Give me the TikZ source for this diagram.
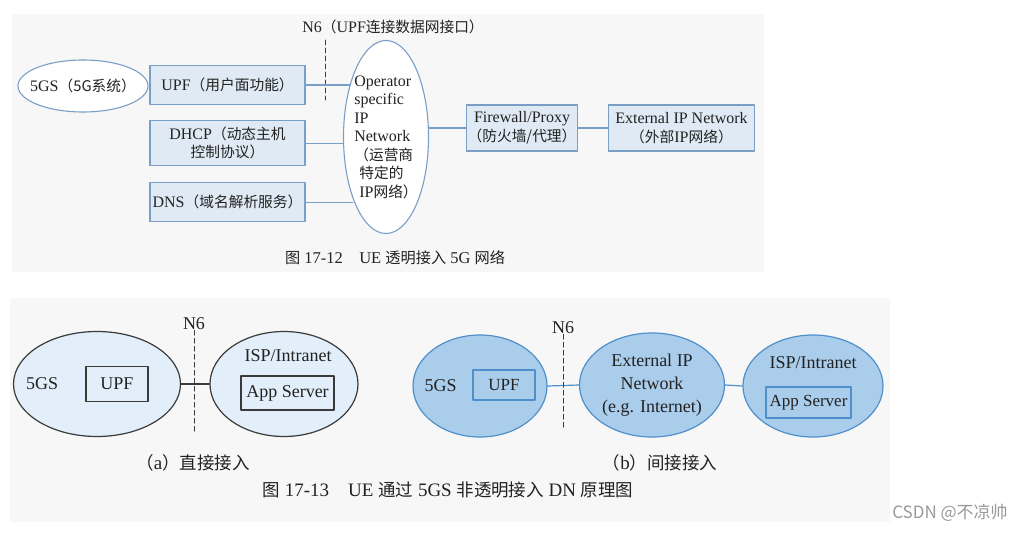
\documentclass[tikz,border=0pt]{standalone}
\usepackage{fontspec}
\setmainfont{Liberation Serif}
\newfontfamily\cjk[Scale=0.92]{Noto Sans CJK SC}
\newfontfamily\markfont{Noto Sans CJK SC}
\usepackage{tikz}
\usetikzlibrary{positioning,shapes.geometric}
\definecolor{ink}{HTML}{222222}
\definecolor{panel}{HTML}{F7F7F7}
\definecolor{boxfill}{HTML}{DFEAF4}
\definecolor{boxline}{HTML}{7A9FC6}
\definecolor{paleblue}{HTML}{E2EEF9}
\definecolor{deepblue}{HTML}{AACDEB}
\definecolor{rimblue}{HTML}{4F8FCB}
\definecolor{rimgray}{HTML}{3A3A3A}
\newcommand{\zh}[1]{{\cjk #1}}
\tikzset{
    every picture/.style={line cap=round,line join=round},
    toptext/.style={inner sep=0pt,text=ink,align=center,
      font=\fontsize{16}{18.5}\selectfont},
    lowtext/.style={inner sep=0pt,text=ink,align=center,
      font=\fontsize{18}{23}\selectfont},
    captext/.style={inner sep=0pt,text=ink,font=\fontsize{17}{20}\selectfont},
    topbox/.style={draw=boxline,fill=boxfill,line width=1.1pt,
      minimum width=155pt,inner sep=1pt,text=ink,align=center,
      font=\fontsize{16}{18.5}\selectfont},
    topoval/.style={ellipse,draw=boxline,fill=white,line width=1.1pt,inner sep=0pt},
    toplink/.style={draw=boxline,line width=1.1pt},
    paleoval/.style={ellipse,draw=rimgray,fill=paleblue,line width=1.2pt,inner sep=0pt},
    deepoval/.style={ellipse,draw=rimblue,fill=deepblue,line width=1.2pt,inner sep=0pt},
    graybox/.style={draw=rimgray,line width=1.1pt,inner sep=0pt,text=ink,
      font=\fontsize{18}{23}\selectfont},
    bluebox/.style={draw=rimblue,line width=1.1pt,inner sep=0pt,text=ink,
      font=\fontsize{17}{23}\selectfont},
    graylink/.style={draw=rimgray,line width=1.2pt},
    bluelink/.style={draw=rimblue,line width=1.2pt},
    n6line/.style={draw=rimgray,dashed,dash pattern=on 5pt off 3pt,line width=0.9pt}
}

\begin{document}
\begin{tikzpicture}[x=1pt,y=-1pt]
  \useasboundingbox (0,0) rectangle (1020,533);
  \fill[panel] (12,14) rectangle (764,272);
  \fill[panel] (10,298) rectangle (890,522);

  % 17-12: transparent access
  \node[topoval,minimum width=130pt,minimum height=52pt] (gs) at (83,86) {};
  \node[toptext] (gstxt) at (gs) {5GS\zh{（5G系统）}};
  \node[topbox,minimum height=39pt] (upf) at (227.5,85) {UPF\zh{（用户面功能）}};
  \node[topbox,minimum height=45pt,below=15pt of upf] (dhcp) {DHCP\zh{（动态主机}\\\zh{控制协议）}};
  \node[topbox,minimum height=39pt,below=16pt of dhcp] (dns) {DNS\zh{（域名解析服务）}};
  \node[topoval,minimum width=85pt,minimum height=193pt] (op) at (386,137) {};
  \node[toptext,align=left] (optxt) at (op) {Operator\\specific\\IP\\Network\\
    \zh{（运营商}\\\hspace{5pt}\zh{特定的}\\\hspace{5pt}IP\zh{网络）}};
  \node[topbox,minimum width=110pt,minimum height=46pt] (fw) at (522,128)
    {Firewall/Proxy\\\zh{（防火墙/代理）}};
  \node[topbox,minimum width=146pt,minimum height=46pt,right=30pt of fw] (ext)
    {External IP Network\\\zh{（外部}IP\zh{网络）}};
  \node[toptext] (n6lab) at (393,27) {N6\zh{（}UPF\zh{连接数据网接口）}};
  \coordinate (n6top) at (325,40);
  \coordinate (n6bot) at (325,100);
  \draw[n6line] (n6top) -- (n6bot);
  \draw[toplink] (upf.east) -- (upf.east -| op.124.5);
  \draw[toplink] (dhcp.east) -- (dhcp.east -| op.186.7);
  \draw[toplink] (dns.east) -- (dns.east -| op.242.9);
  \draw[toplink] (fw.west -| op.12) -- (fw.west);
  \draw[toplink] (fw.east) -- (ext.west);
  \node[captext,font=\fontsize{16.5}{20}\selectfont] (cap1) at (395,258)
    {\zh{图} 17-12\quad UE \zh{透明接入} 5G \zh{网络}};

  % 17-13 (a): direct access
  \node[paleoval,minimum width=167pt,minimum height=105pt] (gsA) at (97,384) {};
  \node[lowtext,right=13pt of gsA.west] (gsAtxt) {5GS};
  \node[graybox,minimum width=62pt,minimum height=35pt] (upfA) at (117,384) {UPF};
  \node[paleoval,minimum width=148pt,minimum height=105pt] (ispA) at (284,384) {};
  \node[graybox,minimum width=93pt,minimum height=34pt] (appA) at (287.5,393) {App Server};
  \node[lowtext] (ispAtxt) at (288,356) {ISP/Intranet};
  \draw[graylink] (gsA.east) -- (ispA.west);
  \node[lowtext] (n6Alab) at (194,324) {N6};
  \coordinate (n6Abot) at (194,432);
  \draw[n6line] (n6Alab.south) -- (n6Abot);
  \node[captext,font=\fontsize{19}{22}\selectfont] (capA) at (193,463) {\zh{（}a\zh{）直接接入}};

  % 17-13 (b): indirect access
  \node[deepoval,minimum width=134pt,minimum height=102pt] (gsB) at (480,386) {};
  \node[lowtext,right=12pt of gsB.west] (gsBtxt) {5GS};
  \node[bluebox,minimum width=62pt,minimum height=30pt] (upfB) at (504,385) {UPF};
  \node[deepoval,minimum width=145pt,minimum height=104pt] (extB) at (652,385) {};
  \node[lowtext] (extBtxt) at (extB) {External IP\\Network\\(e.g. Internet)};
  \node[deepoval,minimum width=140pt,minimum height=102pt] (ispB) at (813,386) {};
  \node[lowtext] (ispBtxt) at (813,363) {ISP/Intranet};
  \node[bluebox,minimum width=85pt,minimum height=31pt] (appB) at (808.5,402.5) {App Server};
  \draw[bluelink] (gsB.east) -- (extB.west);
  \draw[bluelink] (extB.east) -- (ispB.west);
  \node[lowtext] (n6Blab) at (563,328) {N6};
  \coordinate (n6Bbot) at (563,430);
  \draw[n6line] (n6Blab.south) -- (n6Bbot);
  \node[captext,font=\fontsize{19}{22}\selectfont] (capB) at (660,463) {\zh{（}b\zh{）间接接入}};

  \node[captext,font=\fontsize{19}{22}\selectfont] (cap2) at (448,490)
    {\zh{图} 17-13\quad UE \zh{通过} 5GS \zh{非透明接入} DN \zh{原理图}};
  \node[inner sep=0pt,text=black!40,font=\markfont\fontsize{17}{20}\selectfont] (mark) at (950,513) {CSDN @不凉帅};
\end{tikzpicture}
\end{document}
